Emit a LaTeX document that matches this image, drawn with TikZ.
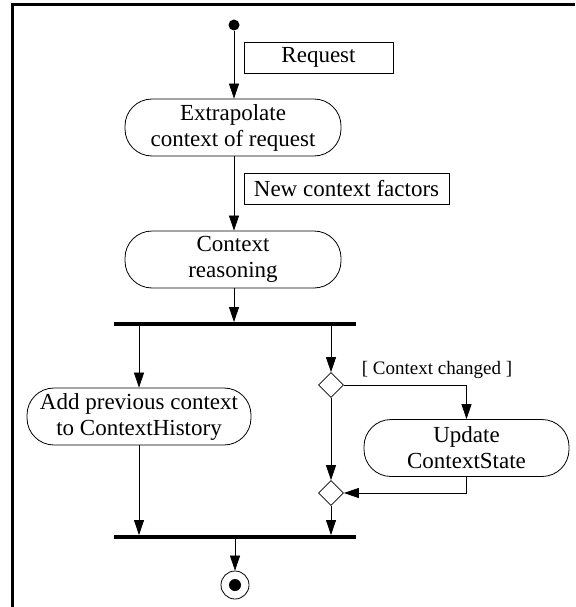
\documentclass[tikz,border=0pt]{standalone}
\usepackage{fontspec}
\setmainfont{Liberation Serif}
\usetikzlibrary{arrows.meta,shapes.geometric}
\begin{document}
\begin{tikzpicture}[x=1pt,y=-1pt,
  act/.style={draw,line width=0.8pt,rounded corners=27pt,minimum width=#1,
    minimum height=57pt,align=center,inner sep=0pt,
    font=\fontsize{23}{26}\selectfont},
  objbox/.style={draw,line width=0.6pt,minimum width=#1,minimum height=31pt,
    inner sep=0pt,font=\fontsize{23}{26}\selectfont},
  bar/.style={fill,inner sep=0pt,minimum width=242pt,minimum height=3.5pt},
  dec/.style={diamond,draw,line width=0.7pt,minimum width=25pt,
    minimum height=25pt,inner sep=0pt},
  flow/.style={-{Triangle[length=15pt,width=10pt]},line width=0.7pt},
  guard/.style={inner sep=0pt,font=\fontsize{19}{22}\selectfont}]
  \useasboundingbox (0,0) rectangle (575,607);
  % frame
  \draw[line width=3pt] (12,607) -- (12,5) -- (575,5);

  % nodes
  \node[circle,fill,minimum size=11pt,inner sep=0pt] (start) at (234,25) {};
  \node[objbox=149pt] (req) at (318.5,57.5) {Request};
  \node[act=216pt] (extr) at (233,127.5) {Extrapolate\\context of request};
  \node[objbox=205pt] (ncf) at (346.5,188.5) {New context factors};
  \node[act=216pt] (reason) at (233,259.5) {Context\\reasoning};
  \node[bar] (fork) at (235,324) {};
  \node[act=224pt] (add) at (139,416.5) {Add previous context\\to ContextHistory};
  \node[dec] (d1) at (331,385) {};
  \node[guard] (gl) at (437,370) {[ Context changed ]};
  \node[act=205pt] (upd) at (466.5,448) {Update\\ContextState};
  \node[dec] (d2) at (331,493) {};
  \node[bar] (join) at (235,537) {};
  \node[circle,draw,line width=0.8pt,minimum size=28pt,inner sep=0pt] (fin) at (235,585) {};
  \node[circle,fill,minimum size=12pt,inner sep=0pt] (finc) at (fin) {};

  % connectors
  \draw[flow] (start) -- (start |- extr.north);
  \draw[flow] (extr.south -| start) -- (start |- reason.north);
  \draw[flow] (reason.south -| start) -- (start |- fork.north);
  \draw[flow] (fork.south -| add) -- (add.north);
  \draw[flow] (fork.south -| d1) -- (d1.north);
  \draw[flow] (d1.east) -| (upd.north);
  \draw[flow] (d1.south) -- (d2.north);
  \draw[flow] (upd.south) |- (d2.east);
  \draw[flow] (add.south) -- (add.south |- join.north);
  \draw[flow] (d2.south) -- (d2.south |- join.north);
  \draw[flow] (join.south -| fin) -- (fin.north);
\end{tikzpicture}
\end{document}
